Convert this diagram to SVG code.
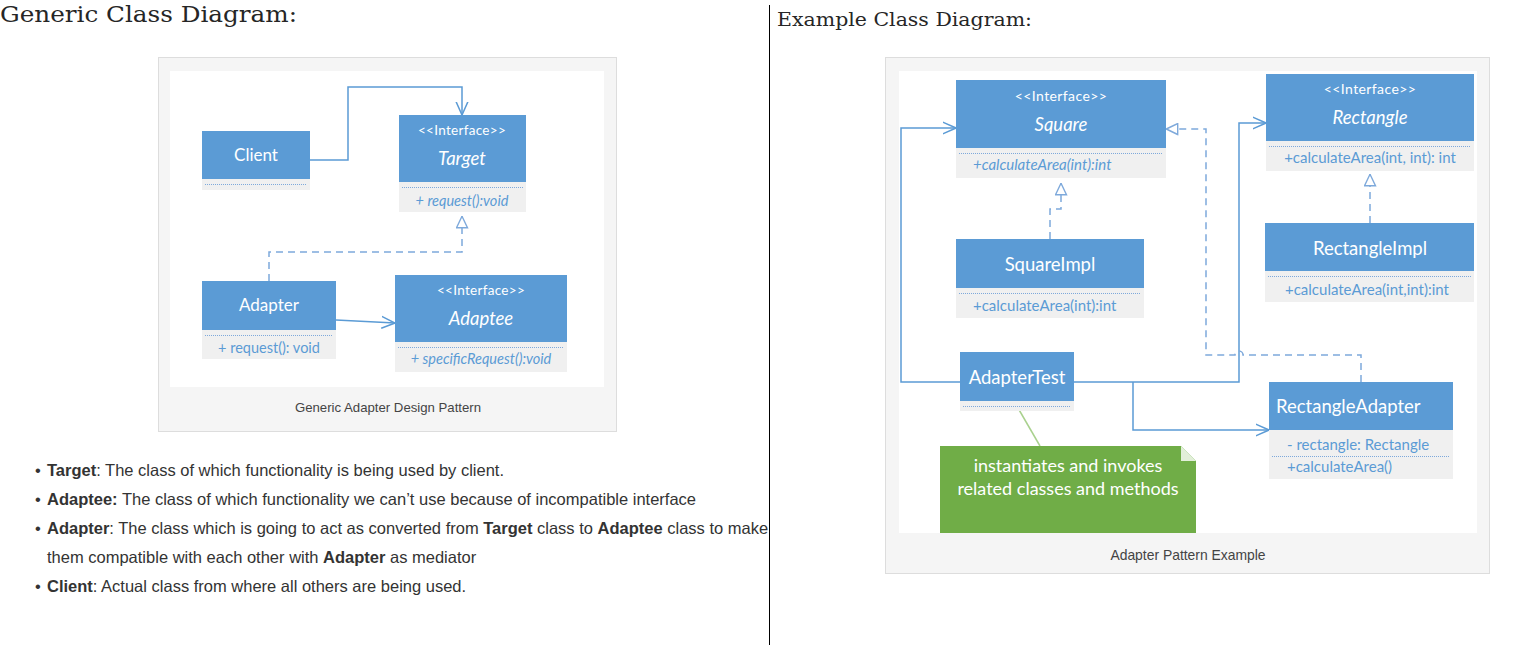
<svg xmlns="http://www.w3.org/2000/svg" width="1534" height="645" viewBox="0 0 1534 645">
<style>
.frame{fill:#f5f5f5;stroke:#dddddd;stroke-width:1}
.canvas{fill:#ffffff}
.box{fill:#5B9BD5}
.comp{fill:#F0F0F0}
.sep{stroke:#7EA9DB;stroke-width:1;stroke-dasharray:1 1;fill:none}
.tw{font-family:Lato,"Open Sans",sans-serif;fill:#ffffff}
.tm{font-family:Lato,"Open Sans",sans-serif;fill:#5B9BD5}
.ml{font-size:14.5px}
.mr{font-size:15px}
.stl{font-size:13.5px;letter-spacing:0.3px}
.str{font-size:14px;letter-spacing:0.4px}
.nl{font-size:17px}
.nr{font-size:18.5px}
.ni{font-size:18.5px;font-style:italic}
.it{font-style:italic}
.conn{stroke:#5B9BD5;stroke-width:1.5;fill:none}
.dash{stroke:#7EA9DB;stroke-width:1.5;stroke-dasharray:7 5;fill:none}
.head{font-family:"DejaVu Serif","Liberation Serif",serif;fill:#262626}
.body{font-family:"Liberation Sans",Arial,sans-serif;font-size:16.5px;fill:#333333}
.cap{font-family:"Liberation Sans",Arial,sans-serif;fill:#444444}
.b{font-weight:bold}
</style>
<defs>
<marker id="open" viewBox="0 0 14 14" refX="13.5" refY="7" markerWidth="14" markerHeight="14" markerUnits="userSpaceOnUse" orient="auto">
<path d="M0,1 L13.5,7 L0,13" fill="none" stroke="#5B9BD5" stroke-width="1.5"/>
</marker>
<marker id="tri" viewBox="0 0 13 13" refX="12.5" refY="6.5" markerWidth="13" markerHeight="13" markerUnits="userSpaceOnUse" orient="auto">
<path d="M0.8,1 L12.2,6.5 L0.8,12 Z" fill="#ffffff" stroke="#7EA9DB" stroke-width="1.4"/>
</marker>
</defs>

<!-- headings and divider -->
<text class="head" x="0" y="22" font-size="22" textLength="297" lengthAdjust="spacingAndGlyphs">Generic Class Diagram:</text>
<text class="head" x="777" y="26" font-size="19" textLength="255" lengthAdjust="spacingAndGlyphs">Example Class Diagram:</text>
<line x1="769.5" y1="5" x2="769.5" y2="645" stroke="#000000" stroke-width="1"/>

<!-- left figure frame -->
<rect class="frame" x="158.5" y="57.5" width="458" height="374"/>
<rect class="canvas" x="170" y="71" width="434" height="316"/>
<text class="cap" x="388" y="412" font-size="13.2" text-anchor="middle">Generic Adapter Design Pattern</text>

<!-- right figure frame -->
<rect class="frame" x="885.5" y="57.5" width="604" height="516"/>
<rect class="canvas" x="899" y="71" width="578" height="462"/>
<text class="cap" x="1188" y="560" font-size="13.9" text-anchor="middle">Adapter Pattern Example</text>

<!-- connectors -->
<g id="connectors">
<path class="conn" d="M310,160 H348 V87 H462 V115" marker-end="url(#open)"/>
<path class="dash" d="M269,281 V252 H462 V216" marker-end="url(#tri)"/>
<path class="conn" d="M336,320 L395,323" marker-end="url(#open)"/>
<path class="conn" d="M960,382 H901 V128 H956" marker-end="url(#open)"/>
<path class="conn" d="M1074,382 H1239 V123 H1266" marker-end="url(#open)"/>
<path class="conn" d="M1133,382 V430 H1269" marker-end="url(#open)"/>
<path class="dash" d="M1050,239 V209 H1061 V183" marker-end="url(#tri)"/>
<path class="dash" d="M1370,223 V174" marker-end="url(#tri)"/>
<path class="dash" d="M1361,382 V355 H1243 A4,4 0 0 0 1235,355 H1206 V129 H1166" marker-end="url(#tri)"/>
<path d="M1018,408 L1040,446" stroke="#A9D18E" stroke-width="1.5" fill="none"/>
</g>

<!-- left nodes -->
<g id="client">
<rect class="box" x="202" y="131" width="108" height="48"/>
<rect class="comp" x="202" y="179" width="108" height="11"/>
<line class="sep" x1="205" y1="184.5" x2="307" y2="184.5"/>
<text class="tw nl" x="256" y="161" text-anchor="middle">Client</text>
</g>
<g id="target">
<rect class="box" x="399" y="115" width="127" height="67"/>
<rect class="comp" x="399" y="182" width="127" height="30"/>
<line class="sep" x1="402" y1="187.5" x2="523" y2="187.5"/>
<text class="tw stl" x="462" y="135" text-anchor="middle">&lt;&lt;Interface&gt;&gt;</text>
<text class="tw ni" x="462" y="165" text-anchor="middle">Target</text>
<text class="tm ml it" x="462" y="206" text-anchor="middle">+ request():void</text>
</g>
<g id="adapter">
<rect class="box" x="202" y="281" width="134" height="49"/>
<rect class="comp" x="202" y="330" width="134" height="29"/>
<line class="sep" x1="205" y1="335.5" x2="333" y2="335.5"/>
<text class="tw nl" x="269" y="311" text-anchor="middle">Adapter</text>
<text class="tm ml" x="269" y="353" text-anchor="middle">+ request(): void</text>
</g>
<g id="adaptee">
<rect class="box" x="395" y="275" width="172" height="67"/>
<rect class="comp" x="395" y="342" width="172" height="30"/>
<line class="sep" x1="398" y1="347.5" x2="564" y2="347.5"/>
<text class="tw stl" x="481" y="295" text-anchor="middle">&lt;&lt;Interface&gt;&gt;</text>
<text class="tw ni" x="481" y="325" text-anchor="middle">Adaptee</text>
<text class="tm ml it" x="481" y="364" text-anchor="middle">+ specificRequest():void</text>
</g>

<!-- right nodes -->
<g id="square">
<rect class="box" x="956" y="80" width="210" height="68"/>
<rect class="comp" x="956" y="148" width="210" height="30"/>
<line class="sep" x1="959" y1="153.5" x2="1163" y2="153.5"/>
<text class="tw str" x="1061" y="101" text-anchor="middle">&lt;&lt;Interface&gt;&gt;</text>
<text class="tw ni" x="1061" y="131" text-anchor="middle">Square</text>
<text class="tm mr it" x="973" y="170">+calculateArea(int):int</text>
</g>
<g id="squareimpl">
<rect class="box" x="956" y="239" width="188" height="49"/>
<rect class="comp" x="956" y="288" width="188" height="30"/>
<line class="sep" x1="959" y1="293.5" x2="1141" y2="293.5"/>
<text class="tw nr" x="1050" y="270.5" text-anchor="middle">SquareImpl</text>
<text class="tm mr" x="973" y="311">+calculateArea(int):int</text>
</g>
<g id="rectangle">
<rect class="box" x="1266" y="74" width="208" height="67"/>
<rect class="comp" x="1266" y="141" width="208" height="30"/>
<line class="sep" x1="1269" y1="146.5" x2="1471" y2="146.5"/>
<text class="tw str" x="1370" y="94" text-anchor="middle">&lt;&lt;Interface&gt;&gt;</text>
<text class="tw ni" x="1370" y="124" text-anchor="middle">Rectangle</text>
<text class="tm mr" x="1370" y="163" text-anchor="middle">+calculateArea(int, int): int</text>
</g>
<g id="rectangleimpl">
<rect class="box" x="1265" y="223" width="209" height="48"/>
<rect class="comp" x="1265" y="271" width="209" height="31"/>
<line class="sep" x1="1268" y1="276.5" x2="1471" y2="276.5"/>
<text class="tw nr" x="1370" y="254.5" text-anchor="middle">RectangleImpl</text>
<text class="tm mr" x="1367" y="295" text-anchor="middle">+calculateArea(int,int):int</text>
</g>
<g id="adaptertest">
<rect class="box" x="960" y="352" width="114" height="49"/>
<rect class="comp" x="960" y="401" width="114" height="10"/>
<line class="sep" x1="963" y1="406.5" x2="1071" y2="406.5"/>
<text class="tw nr" x="1017" y="383.5" text-anchor="middle">AdapterTest</text>
</g>
<g id="rectangleadapter">
<rect class="box" x="1269" y="382" width="184" height="48"/>
<rect class="comp" x="1269" y="430" width="184" height="49"/>
<line class="sep" x1="1272" y1="456.5" x2="1450" y2="456.5"/>
<text class="tw nr" x="1276" y="412.5">RectangleAdapter</text>
<text class="tm mr" x="1287" y="450">- rectangle: Rectangle</text>
<text class="tm mr" x="1287" y="472">+calculateArea()</text>
</g>
<g id="note">
<path d="M940,446 H1181 L1196,461 V533 H940 Z" fill="#70AD47"/>
<path d="M1181,446 L1196,461 H1181 Z" fill="#E2EFD9"/>
<text class="tw" font-size="18" x="1068" y="472" text-anchor="middle">instantiates and invokes</text>
<text class="tw" font-size="18" x="1068" y="495" text-anchor="middle">related classes and methods</text>
</g>

<!-- bullet list -->
<g id="bullets">
<text class="body" x="35" y="476">•</text>
<text class="body" x="47" y="476"><tspan class="b">Target</tspan>: The class of which functionality is being used by client.</text>
<text class="body" x="35" y="505">•</text>
<text class="body" x="47" y="505"><tspan class="b">Adaptee:</tspan> The class of which functionality we can’t use because of incompatible interface</text>
<text class="body" x="35" y="534">•</text>
<text class="body" x="47" y="534"><tspan class="b">Adapter</tspan>: The class which is going to act as converted from <tspan class="b">Target</tspan> class to <tspan class="b">Adaptee</tspan> class to make</text>
<text class="body" x="47" y="563">them compatible with each other with <tspan class="b">Adapter</tspan> as mediator</text>
<text class="body" x="35" y="592">•</text>
<text class="body" x="47" y="592"><tspan class="b">Client</tspan>: Actual class from where all others are being used.</text>
</g>
</svg>
